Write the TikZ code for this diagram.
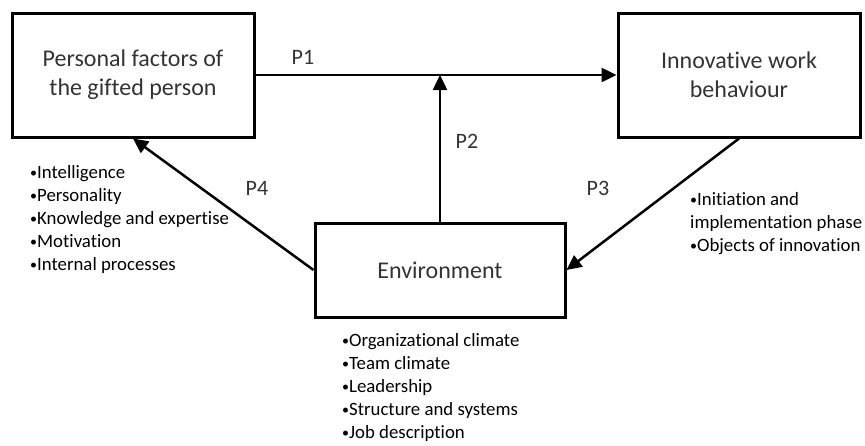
\documentclass[tikz,border=0pt]{standalone}
\usepackage{fontspec}
\setmainfont[Ligatures={NoCommon}]{Carlito}
\usetikzlibrary{arrows.meta,positioning}
\newcommand{\bul}{{\fontsize{14}{14}\selectfont\raisebox{1.2pt}{•}}}

\begin{document}
\begin{tikzpicture}[
  x=1pt, y=-1pt, >={Triangle[length=15pt,width=14pt]},
  box/.style={rectangle, draw, line width=3pt, minimum width=242pt,
              minimum height=124pt, align=center, text=black!80,
              font=\fontsize{24}{29}\selectfont},
  lnk/.style={->, line width=2.5pt},
  plbl/.style={font=\fontsize{22}{26}\selectfont, text=black!80},
  blist/.style={align=left, anchor=north west, inner sep=0pt,
                font=\fontsize{18.8}{23}\selectfont}]

  \useasboundingbox (0,0) rectangle (865,445);

  \node[box] (pf) at (133,75) {Personal factors of\\the gifted person};
  \node[box] (iwb) at (739,75) {Innovative work\\behaviour};
  \node[box, minimum width=250pt, minimum height=94pt] (env) at (440,270) {Environment};

  \coordinate (mid) at (env.north |- pf.east);
  \draw[lnk] (pf.east) -- (iwb.west);
  \draw[lnk] (env.north) -- (mid);
  \draw[lnk] (iwb.south) -- (env.east);
  \draw[lnk] (env.west) -- (pf.south);

  \node[plbl] (p1) at (303,57) {P1};
  \node[plbl] (p2) at (467,141) {P2};
  \node[plbl] (p3) at (598,188) {P3};
  \node[plbl] (p4) at (257,188) {P4};

  % factor lists under each box
  \node[blist] (pflist) at (30,165)
    {\bul Intelligence\\\bul Personality\\\bul Knowledge and expertise\\\bul Motivation\\\bul Internal processes};
  \node[blist] (iwblist) at (690,192)
    {\bul Initiation and\\implementation phase\\\bul Objects of innovation};
  \node[blist] (envlist) at (342,333)
    {\bul Organizational climate\\\bul Team climate\\\bul Leadership\\\bul Structure and systems\\\bul Job description};
\end{tikzpicture}
\end{document}
